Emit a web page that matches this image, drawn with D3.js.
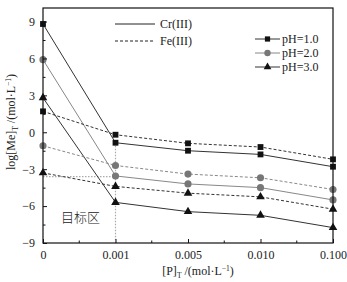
<!DOCTYPE html>
<html>
<head>
<meta charset="utf-8">
<script src="https://cdn.jsdelivr.net/npm/d3@7"></script>
<style>
  body { margin: 0; background: #fff; }
  text { font-family: "Liberation Serif", "Times New Roman", serif; fill: #222; }
</style>
</head>
<body>
<svg id="chart" width="347" height="282"></svg>
<script>
// x categories (equally spaced)
var xLabels = ["0", "0.001", "0.005", "0.010", "0.100"];

// Cr(III), solid lines
var crPH1 = [8.8, -0.85, -1.5, -1.8, -2.8];
var crPH2 = [5.9, -3.55, -4.2, -4.5, -5.5];
var crPH3 = [2.8, -5.7, -6.45, -6.75, -7.75];

// Fe(III), dashed lines
var fePH1 = [1.7, -0.2, -0.9, -1.2, -2.2];
var fePH2 = [-1.1, -2.7, -3.4, -3.7, -4.65];
var fePH3 = [-3.3, -4.4, -4.95, -5.25, -6.25];

var yTicks = [-9, -6, -3, 0, 3, 6, 9];
var phNames = ["pH=1.0", "pH=2.0", "pH=3.0"];

var W = 347, H = 282;
var m = { top: 8, right: 14, bottom: 39, left: 43 };
var iW = W - m.left - m.right, iH = H - m.top - m.bottom;

var svg = d3.select("#chart");
var g = svg.append("g").attr("transform", "translate(" + m.left + "," + m.top + ")");

var x = d3.scalePoint().domain(xLabels).range([0, iW]);
var y = d3.scaleLinear().domain([-9, 10.1]).range([iH, 0]);

var markColor = ["#111", "#777", "#111"];
var lineColor = ["#333", "#888", "#333"];
var shapes = [d3.symbolSquare, d3.symbolCircle, d3.symbolTriangle];
var sizes = [34, 40, 32];

// guide lines of the target zone
g.append("line")
  .attr("x1", x("0")).attr("x2", x("0.001"))
  .attr("y1", y(-3.6)).attr("y2", y(-3.6))
  .attr("stroke", "#aaa").attr("stroke-width", 1.2).attr("stroke-dasharray", "1.5,1.5");
g.append("line")
  .attr("x1", x("0.001")).attr("x2", x("0.001"))
  .attr("y1", y(-0.85)).attr("y2", y(-9))
  .attr("stroke", "#aaa").attr("stroke-width", 1.2).attr("stroke-dasharray", "1.5,1.5");

var series = [
  { vals: crPH1, ph: 0, dash: null },
  { vals: crPH2, ph: 1, dash: null },
  { vals: crPH3, ph: 2, dash: null },
  { vals: fePH1, ph: 0, dash: "3,2" },
  { vals: fePH2, ph: 1, dash: "3,2" },
  { vals: fePH3, ph: 2, dash: "3,2" }
];

var line = d3.line()
  .x(function (d, i) { return x(xLabels[i]); })
  .y(function (d) { return y(d); });

series.forEach(function (s) {
  g.append("path")
    .datum(s.vals)
    .attr("fill", "none")
    .attr("stroke", lineColor[s.ph])
    .attr("stroke-width", 1)
    .attr("stroke-dasharray", s.dash)
    .attr("d", line);
});

series.forEach(function (s) {
  g.selectAll(null)
    .data(s.vals)
    .join("path")
    .attr("transform", function (d, i) { return "translate(" + x(xLabels[i]) + "," + y(d) + ")"; })
    .attr("d", d3.symbol().type(shapes[s.ph]).size(sizes[s.ph]))
    .attr("fill", markColor[s.ph]);
});

// frame
g.append("rect")
  .attr("width", iW).attr("height", iH)
  .attr("fill", "none").attr("stroke", "#111").attr("stroke-width", 1.2);

// y axis
var yAxis = g.append("g")
  .call(d3.axisLeft(y).tickValues(yTicks).tickSize(-4).tickPadding(8).tickFormat(d3.format("d")));
yAxis.select(".domain").remove();
yAxis.selectAll("text").style("font-size", "12px").attr("fill", "#222")
  .text(function (d) { return d < 0 ? "\u2212" + Math.abs(d) : d; });
yAxis.selectAll("line").attr("stroke", "#111");
g.append("g")
  .call(d3.axisLeft(y).tickValues(d3.range(-7.5, 10, 3)).tickSize(-2.5).tickFormat(""))
  .call(function (a) { a.select(".domain").remove(); a.selectAll("line").attr("stroke", "#111"); });

// x axis
var xAxis = g.append("g").attr("transform", "translate(0," + iH + ")")
  .call(d3.axisBottom(x).tickSize(-4).tickPadding(7));
xAxis.select(".domain").remove();
xAxis.selectAll("text").style("font-size", "12px").attr("fill", "#222");
xAxis.selectAll("line").attr("stroke", "#111");
var step = x.step();
g.append("g").attr("transform", "translate(0," + iH + ")")
  .selectAll("line")
  .data(xLabels.slice(1))
  .join("line")
  .attr("x1", function (d) { return x(d) - step / 2; })
  .attr("x2", function (d) { return x(d) - step / 2; })
  .attr("y1", 0).attr("y2", -2.5)
  .attr("stroke", "#111");

// axis titles
var yl = svg.append("text")
  .attr("transform", "translate(15,122) rotate(-90)")
  .attr("text-anchor", "middle")
  .style("font-size", "12px");
yl.append("tspan").text("log[Me]");
yl.append("tspan").attr("dy", 3).style("font-size", "7.5px").text("T");
yl.append("tspan").attr("dy", -3).text(" /(mol\u00b7L");
yl.append("tspan").attr("dy", -4).style("font-size", "7.5px").text("\u22121");
yl.append("tspan").attr("dy", 4).text(")");

var xl = svg.append("text")
  .attr("x", 198).attr("y", 275)
  .attr("text-anchor", "middle")
  .style("font-size", "12px");
xl.append("tspan").text("[P]");
xl.append("tspan").attr("dy", 3).style("font-size", "7.5px").text("T");
xl.append("tspan").attr("dy", -3).text(" /(mol\u00b7L");
xl.append("tspan").attr("dy", -4).style("font-size", "7.5px").text("\u22121");
xl.append("tspan").attr("dy", 4).text(")");

// target zone label
svg.append("text")
  .attr("x", 61).attr("y", 222)
  .style("font-family", "'Noto Sans CJK SC', sans-serif")
  .style("font-size", "13px")
  .style("font-weight", 300)
  .attr("fill", "#333")
  .text("目标区");

// legend: line styles
var lg = svg.append("g");
[["Cr(III)", null, 24], ["Fe(III)", "3,2", 41]].forEach(function (d) {
  lg.append("line")
    .attr("x1", 115).attr("x2", 155).attr("y1", d[2]).attr("y2", d[2])
    .attr("stroke", "#222").attr("stroke-width", 1).attr("stroke-dasharray", d[1]);
  lg.append("text").attr("x", 160).attr("y", d[2] + 4).style("font-size", "12px").text(d[0]);
});

// legend: pH markers
phNames.forEach(function (name, i) {
  var ly = 39 + i * 14;
  lg.append("line")
    .attr("x1", 255).attr("x2", 280).attr("y1", ly).attr("y2", ly)
    .attr("stroke", lineColor[i]).attr("stroke-width", 1);
  lg.append("path")
    .attr("transform", "translate(267.5," + ly + ")")
    .attr("d", d3.symbol().type(shapes[i]).size(sizes[i] * 0.8))
    .attr("fill", markColor[i]);
  lg.append("text").attr("x", 282).attr("y", ly + 4).style("font-size", "12px").text(name);
});
</script>
</body>
</html>
